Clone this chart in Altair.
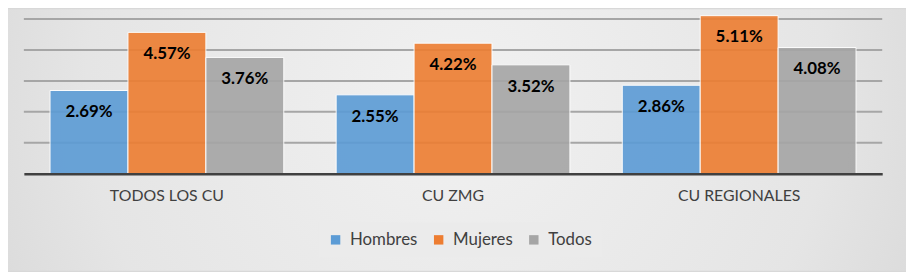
import altair as alt
import pandas as pd

groups = ["TODOS LOS CU", "CU ZMG", "CU REGIONALES"]
series = ["Hombres", "Mujeres", "Todos"]
hombres = [2.69, 2.55, 2.86]
mujeres = [4.57, 4.22, 5.11]
todos = [3.76, 3.52, 4.08]
colors = ["#5B9BD5", "#ED7D31", "#A5A5A5"]
grid_values = [1, 2, 3, 4, 5]

rows = []
for s, vals in zip(series, [hombres, mujeres, todos]):
    for g, v in zip(groups, vals):
        rows.append({"grupo": g, "serie": s, "valor": v, "label": f"{v:.2f}%"})
df = pd.DataFrame(rows)

W, H = 866, 166
FONT = "Lato"

xenc = alt.X("grupo:N", sort=groups,
             scale=alt.Scale(paddingInner=0.183, paddingOuter=0.0915),
             axis=alt.Axis(title=None, labelAngle=0, labelFont=FONT, labelFontSize=16,
                           labelColor="#404040", labelPadding=14, ticks=False,
                           domainColor="#404040", domainWidth=2.5, zindex=1))
yscale = alt.Scale(domain=[0, 5.32], nice=False, zero=True)
yenc = alt.Y("valor:Q", scale=yscale, axis=None)
xoff = alt.XOffset("serie:N", sort=series, scale=alt.Scale(paddingInner=0, paddingOuter=0))

bg = alt.Chart(pd.DataFrame({"a": [0]})).mark_rect(
    fill={"gradient": "radial", "x1": 0.5, "y1": 0.45, "r1": 0, "x2": 0.5, "y2": 0.45, "r2": 0.75,
          "stops": [{"offset": 0, "color": "#f1f1f1"}, {"offset": 0.55, "color": "#e5e5e5"},
                    {"offset": 1, "color": "#cdcdcd"}]}
).encode(x=alt.value(-16), x2=alt.value(W + 24), y=alt.value(0), y2=alt.value(H + 98))

grid = alt.Chart(pd.DataFrame({"g": grid_values})).mark_rule(color="#a6a6a6", strokeWidth=2).encode(
    y=alt.Y("g:Q", scale=yscale, axis=None), x=alt.value(0), x2=alt.value(W))

bars = alt.Chart(df).mark_bar(stroke="white", strokeWidth=1, opacity=0.9).encode(
    x=xenc, xOffset=xoff, y=yenc,
    color=alt.Color("serie:N", sort=series,
                    scale=alt.Scale(domain=series, range=colors),
                    legend=alt.Legend(title=None, orient="none", direction="horizontal",
                                      legendX=297, legendY=215,
                                      symbolType="square", symbolSize=90, symbolOpacity=1,
                                      symbolStrokeWidth=0,
                                      labelFont=FONT, labelFontSize=17, labelColor="#404040",
                                      columnPadding=12, fillColor="#ebebeb", padding=9,
                                      labelOffset=6)),
)

text = alt.Chart(df).mark_text(font=FONT, fontSize=17, fontWeight="bold", color="black",
                               baseline="middle", dy=22).encode(
    x=xenc, xOffset=xoff, y=yenc, text="label:N")

chart = alt.layer(bg, grid, bars, text).resolve_scale(y="shared").properties(
    width=W, height=H,
    padding={"left": 16, "top": 0, "right": 24, "bottom": 98},
    autosize=alt.AutoSizeParams(type="none"),
    background="#d8d8d8",
).configure_view(stroke=None)

chart.save("out.html", embed_options={"renderer": "svg", "actions": False})
